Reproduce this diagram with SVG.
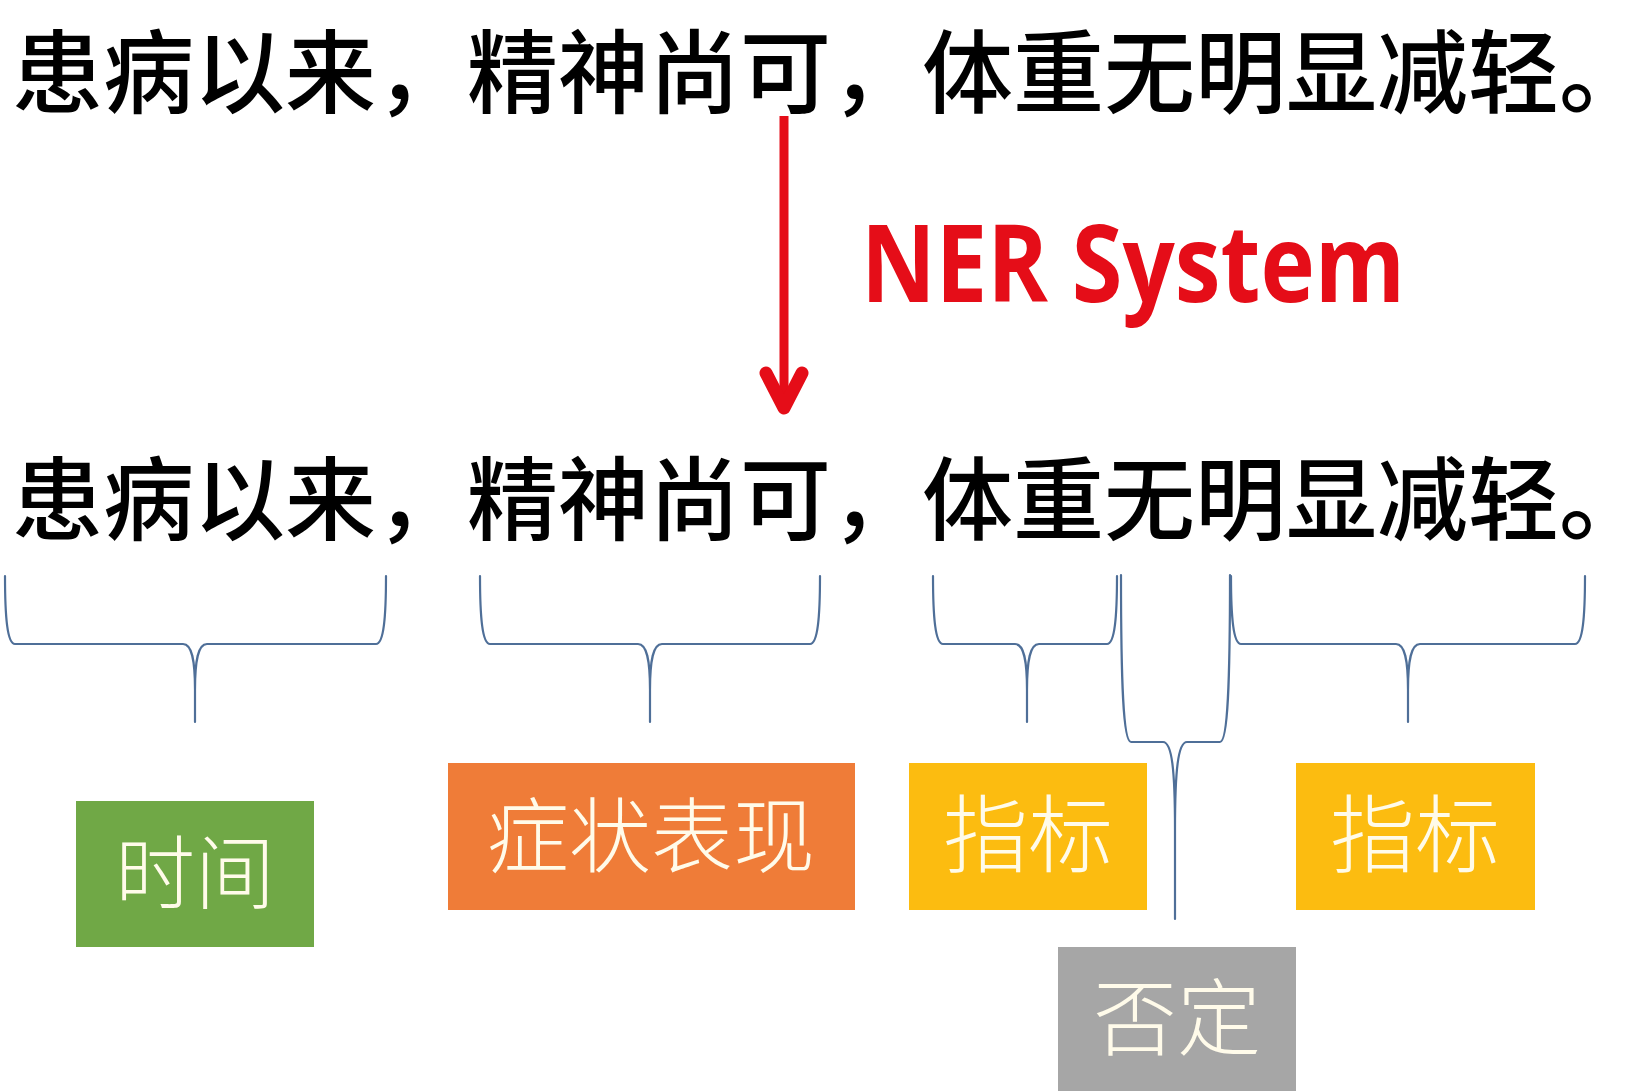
<svg xmlns="http://www.w3.org/2000/svg" width="1650" height="1091" viewBox="0 0 1650 1091">
  <defs>
    <style>
      .sent { font-family: "Noto Sans CJK SC", "Noto Sans CJK TC", sans-serif; font-size: 91px; font-weight: 500; fill: #000; }
      .lbl { font-family: "Noto Sans CJK SC", "Noto Sans CJK TC", sans-serif; font-weight: 300; fill: #fffbea; text-anchor: middle; }
      .brace { fill: none; stroke: #4f6f98; stroke-width: 2.2; stroke-linecap: round; stroke-linejoin: round; }
      .ner { font-family: "Open Sans", "Noto Sans", "Liberation Sans", sans-serif; font-weight: 700; font-size: 108px; fill: #e50d18; }
    </style>
  </defs>
  <rect x="0" y="0" width="1650" height="1091" fill="#ffffff"/>

  <g id="sentence-input">
    <text class="sent" x="12" y="106">患病以来，精神尚可，体重无明显减轻。</text>
  </g>

  <g id="ner-system">
    <text class="ner" x="861" y="302" textLength="544" lengthAdjust="spacingAndGlyphs">NER System</text>
  </g>

  <g id="sentence-output">
    <text class="sent" x="12" y="533">患病以来，精神尚可，体重无明显减轻。</text>
  </g>

  <g id="connectors">
    <g id="arrow">
      <line x1="784" y1="116" x2="784" y2="400" stroke="#e50d18" stroke-width="9"/>
      <polyline points="766,373 784,408 802,373" fill="none" stroke="#e50d18" stroke-width="13" stroke-linecap="round" stroke-linejoin="round"/>
    </g>
    <path class="brace" d="M5,576 C5,615 7,644 15,644 L183,644 C192,644 195,660 195,690 L195,722 M195,690 C195,660 198,644 207,644 L376,644 C384,644 386,615 386,576"/>
    <path class="brace" d="M480,576 C480,615 482,644 490,644 L638,644 C647,644 650,660 650,690 L650,722 M650,690 C650,660 653,644 662,644 L810,644 C818,644 820,615 820,576"/>
    <path class="brace" d="M933,576 C933,615 935,644 943,644 L1015,644 C1024,644 1027,660 1027,690 L1027,722 M1027,690 C1027,660 1030,644 1039,644 L1107,644 C1115,644 1117,615 1117,576"/>
    <path class="brace" d="M1121,575 C1121,680 1123,742 1131,742 L1163,742 C1172,742 1175,770 1175,830 L1175,919 M1175,830 C1175,770 1178,742 1187,742 L1220,742 C1228,742 1230,680 1230,575"/>
    <path class="brace" d="M1231,576 C1231,615 1233,644 1241,644 L1396,644 C1405,644 1408,660 1408,690 L1408,722 M1408,690 C1408,660 1411,644 1420,644 L1575,644 C1583,644 1585,615 1585,576"/>
  </g>

  <g id="node-time">
    <rect x="76" y="801" width="238" height="146" fill="#70a846"/>
    <text class="lbl" x="195" y="902" font-size="80">时间</text>
  </g>

  <g id="node-symptom">
    <rect x="448" y="763" width="407" height="147" fill="#ef7c38"/>
    <text class="lbl" x="651" y="866" font-size="82">症状表现</text>
  </g>

  <g id="node-index-1">
    <rect x="909" y="763" width="238" height="147" fill="#fcbc10"/>
    <text class="lbl" x="1028" y="866" font-size="85">指标</text>
  </g>

  <g id="node-index-2">
    <rect x="1296" y="763" width="239" height="147" fill="#fcbc10"/>
    <text class="lbl" x="1415" y="866" font-size="85">指标</text>
  </g>

  <g id="node-negation">
    <rect x="1058" y="947" width="238" height="144" fill="#a6a6a6"/>
    <text class="lbl" x="1177" y="1049" font-size="84">否定</text>
  </g>
</svg>
